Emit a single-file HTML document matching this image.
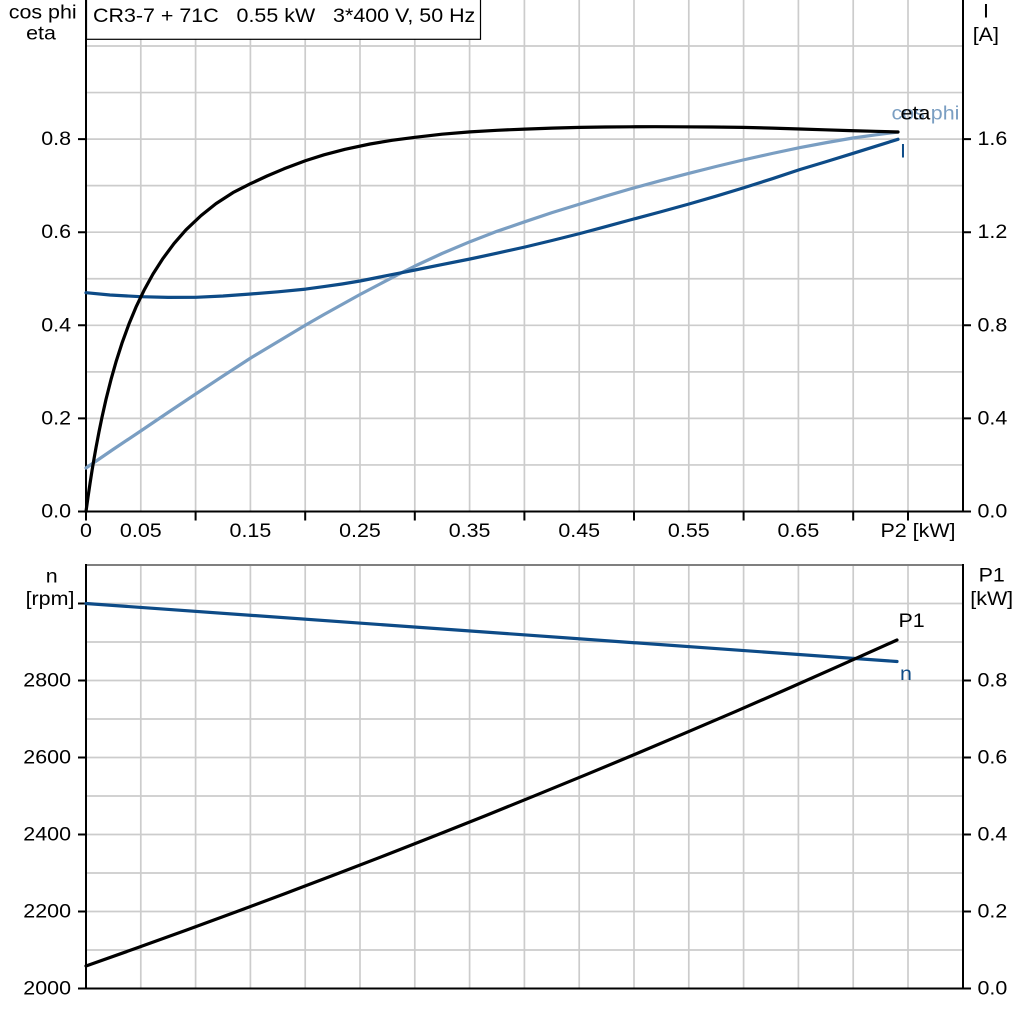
<!DOCTYPE html>
<html><head><meta charset="utf-8"><style>
html,body{margin:0;padding:0;background:#fff;}
svg{display:block;}
text{font-family:"Liberation Sans",Arial,sans-serif;font-size:19.5px;fill:#000;white-space:pre;}
</style></head><body>
<svg width="1024" height="1024" viewBox="0 0 1024 1024" xmlns="http://www.w3.org/2000/svg">
<rect x="0" y="0" width="1024" height="1024" fill="#fff"/>
<!-- grids -->
<g stroke="#cccccc" stroke-width="1.7" fill="none">
<path d="M140.8 0V511M195.6 0V511M250.4 0V511M305.2 0V511M360 0V511M414.8 0V511M469.6 0V511M524.4 0V511M579.2 0V511M634 0V511M688.8 0V511M743.6 0V511M798.4 0V511M853.2 0V511M908 0V511"/>
<path d="M86 464.95H963M86 418.4H963M86 371.85H963M86 325.3H963M86 278.75H963M86 232.2H963M86 185.65H963M86 139.1H963M86 92.55H963M86 46H963"/>
<path d="M140.8 565V988M195.6 565V988M250.4 565V988M305.2 565V988M360 565V988M414.8 565V988M469.6 565V988M524.4 565V988M579.2 565V988M634 565V988M688.8 565V988M743.6 565V988M798.4 565V988M853.2 565V988M908 565V988"/>
<path d="M86 950H963M86 911.5H963M86 873H963M86 834.5H963M86 796H963M86 757.5H963M86 719H963M86 680.5H963M86 642H963M86 603.5H963"/>
</g>
<!-- bottom chart top border -->
<line x1="86" y1="565" x2="963" y2="565" stroke="#7f7f7f" stroke-width="2"/>
<!-- axes -->
<g stroke="#000" stroke-width="2" fill="none">
<path d="M86 0V512.5M963 0V512.5M78 511.5H971"/>
<path d="M86 564V989.5M963 564V989.5M78 988.5H971"/>
<path d="M86 511.5V520.5M195.6 511.5V520.5M305.2 511.5V520.5M414.8 511.5V520.5M524.4 511.5V520.5M634 511.5V520.5M743.6 511.5V520.5M853.2 511.5V520.5M908 511.5V520.5"/>
<path d="M78 418.4H86M78 325.3H86M78 232.2H86M78 139.1H86"/>
<path d="M963 418.4H971M963 325.3H971M963 232.2H971M963 139.1H971"/>
<path d="M78 911.5H86M78 834.5H86M78 757.5H86M78 680.5H86M78 603.5H86"/>
<path d="M963 911.5H971M963 834.5H971M963 757.5H971M963 680.5H971"/>
</g>
<!-- title box -->
<rect x="86.5" y="-1" width="394" height="40.3" fill="#fff" stroke="#000" stroke-width="1.2"/>
<text transform="translate(93 22) scale(1.1 1)" xml:space="preserve">CR3-7 + 71C   0.55 kW   3*400 V, 50 Hz</text>

<!-- axis titles -->
<g text-anchor="middle">
<text transform="translate(42.7 18.3) scale(1.1 1)">cos phi</text>
<text transform="translate(41 39.5) scale(1.1 1)">eta</text>
<text transform="translate(986 17.5) scale(1.1 1)">I</text>
<text transform="translate(985.8 41) scale(1.1 1)">[A]</text>
<text transform="translate(51.7 582.7) scale(1.1 1)">n</text>
<text transform="translate(50 605) scale(1.1 1)">[rpm]</text>
<text transform="translate(991.7 581.7) scale(1.1 1)">P1</text>
<text transform="translate(991.7 605) scale(1.1 1)">[kW]</text>
</g>

<!-- left tick labels -->
<g text-anchor="end">
<text transform="translate(71 517.5) scale(1.1 1)">0.0</text>
<text transform="translate(71 424.4) scale(1.1 1)">0.2</text>
<text transform="translate(71 331.3) scale(1.1 1)">0.4</text>
<text transform="translate(71 238.2) scale(1.1 1)">0.6</text>
<text transform="translate(71 145.1) scale(1.1 1)">0.8</text>
<text transform="translate(71 994.5) scale(1.1 1)">2000</text>
<text transform="translate(71 917.5) scale(1.1 1)">2200</text>
<text transform="translate(71 840.5) scale(1.1 1)">2400</text>
<text transform="translate(71 763.5) scale(1.1 1)">2600</text>
<text transform="translate(71 686.5) scale(1.1 1)">2800</text>
</g>
<!-- right tick labels -->
<g>
<text transform="translate(977.5 517.5) scale(1.1 1)">0.0</text>
<text transform="translate(977.5 424.4) scale(1.1 1)">0.4</text>
<text transform="translate(977.5 331.3) scale(1.1 1)">0.8</text>
<text transform="translate(977.5 238.2) scale(1.1 1)">1.2</text>
<text transform="translate(977.5 145.1) scale(1.1 1)">1.6</text>
<text transform="translate(977.5 994.5) scale(1.1 1)">0.0</text>
<text transform="translate(977.5 917.5) scale(1.1 1)">0.2</text>
<text transform="translate(977.5 840.5) scale(1.1 1)">0.4</text>
<text transform="translate(977.5 763.5) scale(1.1 1)">0.6</text>
<text transform="translate(977.5 686.5) scale(1.1 1)">0.8</text>
</g>
<!-- x tick labels -->
<g text-anchor="middle">
<text transform="translate(86 537) scale(1.1 1)">0</text>
<text transform="translate(140.8 537) scale(1.1 1)">0.05</text>
<text transform="translate(250.4 537) scale(1.1 1)">0.15</text>
<text transform="translate(360 537) scale(1.1 1)">0.25</text>
<text transform="translate(469.6 537) scale(1.1 1)">0.35</text>
<text transform="translate(579.2 537) scale(1.1 1)">0.45</text>
<text transform="translate(688.8 537) scale(1.1 1)">0.55</text>
<text transform="translate(798.4 537) scale(1.1 1)">0.65</text>
<text transform="translate(918 537) scale(1.1 1)">P2 [kW]</text>
</g>

<!-- top chart curves -->
<g fill="none" stroke-width="3.2" stroke-linejoin="round" stroke-linecap="round">
<polyline stroke="#7a9ec2" points="86,468 113,449.5 140.7,431 168,412.5 195.7,394 223,376 250.7,358 280.7,340 305.7,325 324,314.5 342,304.5 360,294.5 380,284 401.7,272.7 415,266 442,253.5 470,241.7 497,231.3 525,221.7 552,212.6 580,204 605,196.3 630,189 660,180.8 689,173.3 716,166.5 743,160 772,153.5 800,147.6 827,142.5 853,138 876,134.8 898,132"/>
<polyline stroke="#0d4b87" points="86,292.7 110,295 140.7,296.7 168,297.4 195.7,297.3 223,296 250.7,294 278,291.8 305.7,289.1 324,286.6 342,284 360,281 380,277 401.7,272.7 415,270 442,264.6 470,259 497,253.2 525,247 552,240.5 580,233.5 605,226.8 630,220 660,212 689,204 716,196.2 743,188 772,178.8 800,169.5 825,162 850,154.3 874,146.8 898,139.3"/>
<polyline stroke="#000" points="86,511.5 88,497.1 90,483.6 92,470.8 94,458.9 96,447.6 99,431.8 102,417.2 106,399.4 111,379.6 116,361.9 122,343.1 129,323.9 136,307.1 144,290.4 153,274 163,258.4 174,243.6 186,229.8 201,215.6 216,203.6 233,192.6 250.7,183.6 267,176 284,168.8 305.7,160.6 324,154.8 345,149.3 370,144 392,140.3 415,137.3 442,134.2 470,131.9 497,130.3 525,129.1 552,128.1 580,127.4 605,127 630,126.8 655,126.7 680,126.8 712,127 743,127.4 772,128.1 800,129 825,129.8 850,130.6 875,131.3 898,132"/>
</g>
<!-- top curve labels -->
<text transform="translate(891.5 119.3) scale(1.1 1)" style="fill:#7a9ec2">cos phi</text>
<text transform="translate(900.5 119.3) scale(1.1 1)">eta</text>
<text transform="translate(900 157.3) scale(1.1 1)" style="fill:#0d4b87">I</text>

<!-- bottom chart curves -->
<g fill="none" stroke-width="3.2" stroke-linejoin="round" stroke-linecap="round">
<polyline stroke="#0d4b87" points="86,603.5 897,661.5"/>
<polyline stroke="#000" points="86,966 136,948.3 186,930.2 236,911.9 286,893.2 336,874.3 386,855 436,835.4 486,815.5 536,795.2 586,774.7 636,753.9 686,732.7 736,711.3 786,689.5 836,667.3 897,640"/>
</g>
<text transform="translate(898.5 627) scale(1.1 1)">P1</text>
<text transform="translate(900 680) scale(1.1 1)" style="fill:#0d4b87">n</text>
</svg>
</body></html>
